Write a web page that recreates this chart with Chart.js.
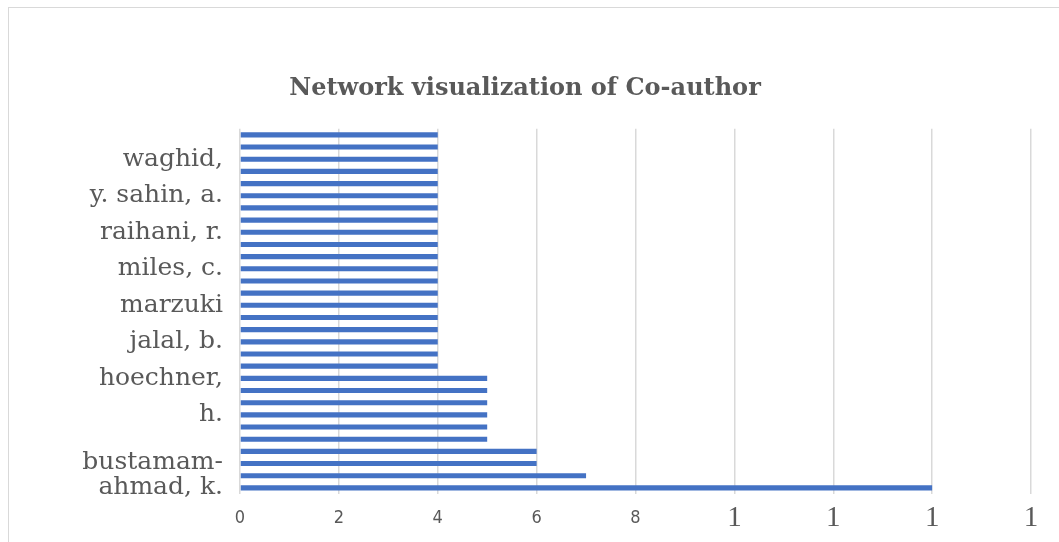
<!DOCTYPE html>
<html>
<head>
<meta charset="utf-8">
<script src="https://cdn.jsdelivr.net/npm/chart.js@4.4.0/dist/chart.umd.min.js"></script>
<style>
    html, body { margin: 0; padding: 0; background: #fff; overflow: hidden; }
    #frame { position: absolute; left: 8px; top: 7px; width: 1070px; height: 560px; border: 1px solid #d9d9d9; }
    #wrap { position: absolute; left: 0; top: 0; width: 1059px; height: 542px; }
</style>
</head>
<body>
<div id="frame"></div>
<div id="wrap"><canvas id="chartCoauthor"></canvas></div>
<script>
/* ----------------------------------------------------------------------------
                                     DATA
---------------------------------------------------------------------------- */
// top to bottom, only every third category label is visible in the picture
var authors = [
    '', '', 'waghid,', '', '', 'y. sahin, a.', '', '', 'raihani, r.', '',
    '', 'miles, c.', '', '', 'marzuki', '', '', 'jalal, b.', '', '',
    'hoechner,', '', '', 'h.', '', '', '', '', '', ['bustamam-', 'ahmad, k.', '']
];
var coauthorLinks = [
    4, 4, 4, 4, 4, 4, 4, 4, 4, 4,
    4, 4, 4, 4, 4, 4, 4, 4, 4, 4,
    5, 5, 5, 5, 5, 5, 6, 6, 7, 14
];
var xTicks = [0, 2, 4, 6, 8, 10, 12, 14, 16];

var textColor = '#595959';
var gridColor = '#d9d9d9';
var barColor = '#4472c4';

/* ----------------------------------------------------------------------------
                                    MAIN
---------------------------------------------------------------------------- */
const ctx = document.getElementById('chartCoauthor').getContext('2d');

const chartCoauthor = new Chart(ctx, {
    type: 'bar',
    data: {
        labels: authors,
        datasets: [{
            label: '',
            data: coauthorLinks,
            backgroundColor: barColor,
            barPercentage: 0.42,
            categoryPercentage: 1.0
        }]
    },
    options: {
        indexAxis: 'y',
        responsive: true,
        maintainAspectRatio: false,
        animation: false,
        layout: {
            padding: { left: 19, right: 28, top: 0, bottom: 0 }
        },
        plugins: {
            legend: { display: false },
            tooltip: { enabled: false },
            title: {
                display: true,
                text: 'Network visualization of Co-author',
                color: textColor,
                font: { family: 'DejaVu Serif', size: 24, weight: 'bold', lineHeight: 1.2 },
                padding: { top: 74, bottom: 26 }
            }
        },
        scales: {
            x: {
                min: 0,
                max: 16,
                afterBuildTicks: function(scale) {
                    scale.ticks = xTicks.map(function(v) { return { value: v }; });
                },
                afterFit: function(scale) { scale.height = 48; },
                grid: {
                    color: gridColor,
                    lineWidth: 1.5,
                    drawTicks: false
                },
                border: { display: false },
                ticks: {
                    color: textColor,
                    padding: 13,
                    // the reference cuts two-digit ticks down to their first digit
                    callback: function(value) {
                        return value >= 10 ? String(value).charAt(0) : value;
                    },
                    font: function(c) {
                        if (c.tick && c.tick.value >= 10) {
                            return { family: 'Liberation Serif', size: 29, lineHeight: 0.8 };
                        }
                        return { family: '"DejaVu Sans Condensed", "Liberation Sans", sans-serif', size: 18, lineHeight: 1.25 };
                    }
                }
            },
            y: {
                afterFit: function(scale) { scale.width = 240 - 19; },
                grid: { display: false, drawTicks: false },
                border: { display: false },
                ticks: {
                    color: textColor,
                    padding: 17,
                    autoSkip: false,
                    font: { family: 'DejaVu Serif', size: 25, lineHeight: 1.0 }
                }
            }
        }
    }
});
</script>
</body>
</html>
